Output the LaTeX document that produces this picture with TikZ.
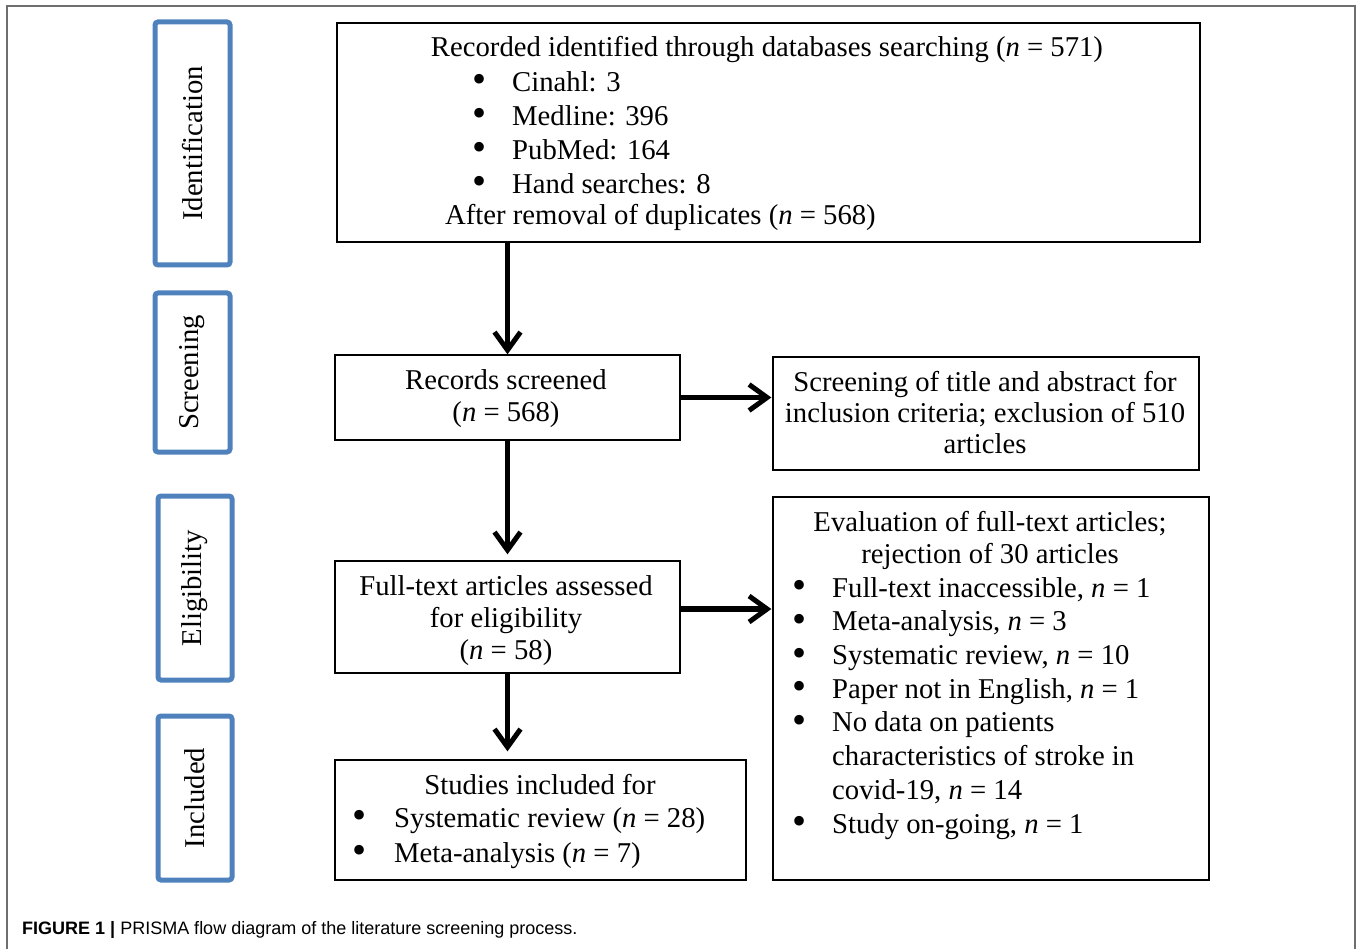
\documentclass[tikz,border=0pt]{standalone}
\usepackage{fontspec}
\setmainfont{Liberation Serif}
\setsansfont{Liberation Sans}
\usetikzlibrary{arrows.meta,positioning}
\definecolor{stageblue}{RGB}{79,129,189}
\definecolor{framegray}{RGB}{110,110,110}
\newcommand{\dotb}{\raisebox{-1.5pt}{\scalebox{1.4}{\textbullet}}}
\newcommand{\bul}{\strut\makebox[40pt][l]{\dotb}}
\newcommand{\nn}{\textit{n}}

\begin{document}
\begin{tikzpicture}[x=1pt,y=-1pt,font=\fontsize{28.7}{34}\selectfont,>=Latex,
  stage/.style={draw=stageblue,line width=5pt,rounded corners=3pt,rotate=90,inner sep=0},
  box/.style={draw,line width=1.3pt,inner sep=0},
  txt/.style={inner sep=0},
  arr/.style={line width=5.5pt,-{Straight Barb[length=18pt,width=26pt,line width=5pt]}}]
\useasboundingbox (0,0) rectangle (1357,949);
\draw[framegray,line width=2pt] (7,949) -- (7,6) -- (1355,6) -- (1355,949);

% stages on the left
\node[stage,minimum width=243pt,minimum height=75pt] (sid) at (192.5,143.5) {Identification};
\node[stage,minimum width=159pt,minimum height=75pt] (ssc) at (192.5,372.5) {Screening};
\node[stage,minimum width=184pt,minimum height=74pt] (sel) at (195,588) {Eligibility};
\node[stage,minimum width=164pt,minimum height=74pt] (sin) at (195,798) {Included};

% flow boxes
\node[box,minimum width=863pt,minimum height=219pt] (ident) at (768.5,132.5) {};
\node[box,minimum width=345pt,minimum height=85pt] (screened) at (507.5,397.5) {};
\node[box,minimum width=426pt,minimum height=113pt] (excl) at (986,413.5) {};
\node[box,minimum width=345pt,minimum height=112pt] (fulltext) at (507.5,617) {};
\node[box,minimum width=436pt,minimum height=383pt] (reject) at (991,688.5) {};
\node[box,minimum width=411pt,minimum height=120pt] (included) at (540.5,820) {};

% texts (north anchors sit 0.7 baselineskip above the first baseline)
\node[txt,anchor=base] (identT) at (767,57) {Recorded identified through databases searching (\nn{} = 571)};
\node[txt,anchor=north west,align=left] (identL) at (472,67.2) {\bul Cinahl: 3\\\bul Medline: 396\\\bul PubMed: 164\\\bul Hand searches: 8};
\node[txt,anchor=base west] (identD) at (445,225) {After removal of duplicates (\nn{} = 568)};
\node[txt,anchor=north,align=center,font=\fontsize{28.7}{32}\selectfont] (screenedT) at (506,366.6) {\strut Records screened\\(\nn{} = 568)};
\node[txt,anchor=north,align=center,font=\fontsize{28.7}{31}\selectfont] (exclT) at (985,369.3) {\strut Screening of title and abstract for\\inclusion criteria; exclusion of 510\\articles};
\node[txt,anchor=north,align=center,font=\fontsize{28.7}{32}\selectfont] (fulltextT) at (506,572.6) {\strut Full-text articles assessed\\for eligibility\\(\nn{} = 58)};
\node[txt,anchor=north,align=center,font=\fontsize{28.7}{32}\selectfont] (rejectT) at (990,508.6) {\strut Evaluation of full-text articles;\\rejection of 30 articles};
\node[txt,anchor=north west,align=left,font=\fontsize{28.7}{33.7}\selectfont] (rejectL) at (792,573.4) {\bul Full-text inaccessible, \nn{} = 1\\\bul Meta-analysis, \nn{} = 3\\\bul Systematic review, \nn{} = 10\\\bul Paper not in English, \nn{} = 1\\\bul No data on patients\\\hspace*{40pt}characteristics of stroke in\\\hspace*{40pt}covid-19, \nn{} = 14\\\bul Study on-going, \nn{} = 1};
\node[txt,anchor=base] (includedT) at (540,794) {Studies included for};
\node[txt,anchor=north west,align=left,font=\fontsize{28.7}{35}\selectfont] (includedL) at (352,802.5) {\strut\makebox[42pt][l]{\dotb}Systematic review (\nn{} = 28)\\\makebox[42pt][l]{\dotb}Meta-analysis (\nn{} = 7)};

% connectors
\draw[arr] (screened.north |- ident.south) -- (screened.north);
\draw[arr,shorten >=6pt] (screened.south) -- (fulltext.north);
\draw[arr,shorten >=8pt] (fulltext.south) -- (fulltext.south |- included.north);
\draw[arr,shorten >=1pt] (screened.east) -- (screened.east -| excl.west);
\draw[arr,shorten >=1pt] ([yshift=8pt]fulltext.east) -- ([yshift=8pt]fulltext.east -| reject.west);

\node[txt,anchor=west,font=\sffamily\fontsize{18}{20}\selectfont] (caption) at (22,930) {\textbf{FIGURE 1 |} PRISMA flow diagram of the literature screening process.};
\end{tikzpicture}
\end{document}
